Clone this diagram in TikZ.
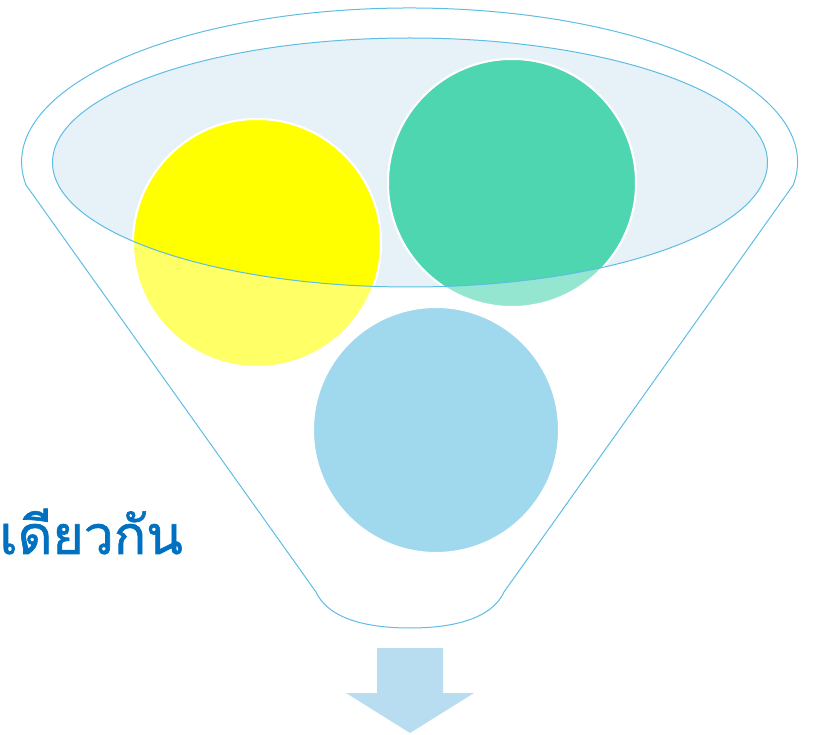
\documentclass[tikz,border=0pt]{standalone}
\usepackage{fontspec}
\newfontfamily\thaifont[Script=Thai,FakeBold=1.2]{Loma}
\definecolor{funnelline}{HTML}{5DBDE4}
\definecolor{ellfill}{HTML}{E6F1F8}
\definecolor{cyellow}{HTML}{FFFF00}
\definecolor{cgreen}{HTML}{4DD6B0}
\definecolor{cblue}{HTML}{A0D8EE}
\definecolor{arrowblue}{HTML}{B9DDF0}
\definecolor{textblue}{HTML}{0070C0}
\begin{document}
\begin{tikzpicture}[x=1pt,y=-1pt,
  funnel/.style={draw=funnelline,line width=1pt},
  ball/.style={draw=white,line width=2pt}]
\useasboundingbox (0,0) rectangle (815,735);
% outer funnel
\coordinate (tl) at (26,185);
\coordinate (tr) at (794,185);
\coordinate (bl) at (316,592);
\coordinate (br) at (504,592);
\coordinate (bm) at (410,628);
\draw[funnel] (tl) arc[start angle=188.6,end angle=-8.6,x radius=388,y radius=-154]
  -- (br) .. controls (490,622) and (445,628) .. (bm)
  .. controls (375,628) and (330,622) .. (bl) -- cycle;
% inner ellipse fill
\fill[ellfill] (410,162.5) ellipse[x radius=357.5,y radius=124.5];
% circles, light outside ellipse
\path[ball,fill=cyellow,fill opacity=0.6] (257,243) circle[radius=124];
\path[ball,fill=cgreen,fill opacity=0.6] (512,183) circle[radius=124];
\path[ball,fill=cblue] (436,430) circle[radius=123];
% opaque part inside ellipse
\begin{scope}
\clip (410,162.5) ellipse[x radius=357.5,y radius=124.5];
\path[ball,fill=cyellow] (257,243) circle[radius=124];
\path[ball,fill=cgreen] (512,183) circle[radius=124];
\end{scope}
\draw[funnel] (410,162.5) ellipse[x radius=357.5,y radius=124.5];
% arrow
\fill[arrowblue] (377,648) -- (443,648) -- (443,693) -- (474,693) -- (410,733)
  -- (346,693) -- (377,693) -- cycle;
% text
\node[anchor=base east,inner sep=0pt,text=textblue,font=\thaifont\fontsize{53.5}{64}\selectfont] (t) at (183,554) {เดียวกัน};
\end{tikzpicture}
\end{document}
